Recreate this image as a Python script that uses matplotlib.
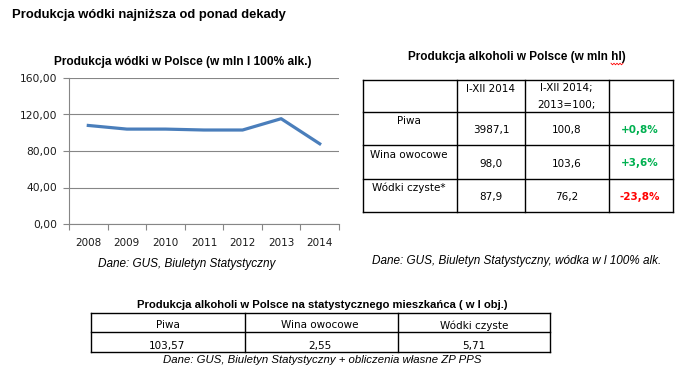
import matplotlib
matplotlib.use("Agg")
import matplotlib.pyplot as plt
import numpy as np

# ---- data ----
years = ["2008", "2009", "2010", "2011", "2012", "2013", "2014"]
vodka_prod = [108.0, 104.0, 104.0, 103.0, 103.0, 115.4, 87.9]
y_ticks = [0, 40, 80, 120, 160]

t1_headers = ["I-XII 2014", "I-XII 2014;\n2013=100;"]
t1_rows = ["Piwa", "Wina owocowe", "Wódki czyste*"]
t1_prod = ["3987,1", "98,0", "87,9"]
t1_index = ["100,8", "103,6", "76,2"]
t1_change = ["+0,8%", "+3,6%", "-23,8%"]

t2_headers = ["Piwa", "Wina owocowe", "Wódki czyste"]
t2_values = ["103,57", "2,55", "5,71"]

W, H = 680, 370
fig = plt.figure(figsize=(W / 100, H / 100), dpi=100)
fig.patch.set_facecolor("white")

BOLD = dict(family="Liberation Sans", weight="bold")
ITAL = dict(family="Liberation Sans", style="italic")
BODY = dict(family="DejaVu Sans")

# ---- line chart ----
L, R, T, B = 69, 339, 78, 224
ax = fig.add_axes([L / W, (H - B) / H, (R - L) / W, (B - T) / H])
x = np.arange(len(years))
ax.plot(x, vodka_prod, color="#4A7EBB", lw=2.3, solid_joinstyle="round")
ax.set_xlim(-0.5, len(years) - 0.5)
ax.set_ylim(0, 160)
ax.set_yticks(y_ticks)
ax.set_yticklabels([f"{v:.2f}".replace(".", ",") for v in y_ticks], fontsize=7.7, color="#1a1a1a", **BODY)
ax.set_xticks(x)
ax.set_xticklabels(years, fontsize=7.5, color="#1a1a1a", **BODY)
ax.set_xticks(np.arange(-0.5, len(years)), minor=True)
ax.tick_params(axis="x", which="major", length=0, pad=10)
ax.tick_params(axis="x", which="minor", length=4, color="#868686", width=0.8)
ax.tick_params(axis="y", length=4, color="#868686", width=0.8, pad=4.5)
ax.grid(axis="y", color="#868686", lw=0.8)
ax.set_axisbelow(True)
for s in ["top", "right"]:
    ax.spines[s].set_visible(False)
for s in ["left", "bottom"]:
    ax.spines[s].set_color("#868686")
    ax.spines[s].set_linewidth(0.8)

# ---- overlay for texts and tables ----
ov = fig.add_axes([0, 0, 1, 1], zorder=5)
ov.set_xlim(0, W)
ov.set_ylim(H, 0)
ov.axis("off")
ov.patch.set_alpha(0)

ov.text(12, 15, "Produkcja wódki najniższa od ponad dekady", fontsize=9.35, ha="left", va="center", **BOLD)
ov.text(183, 61.5, "Produkcja wódki w Polsce (w mln l 100% alk.)", fontsize=8.6, ha="center", va="center", **BOLD)
ov.text(187, 263.5, "Dane: GUS, Biuletyn Statystyczny", fontsize=8.5, ha="center", va="center", **ITAL)

# table 1
ov.text(517, 57, "Produkcja alkoholi w Polsce (w mln hl)", fontsize=8.5, ha="center", va="center", **BOLD)
zx = np.linspace(611, 623, 9)
ov.plot(zx, 64 + np.where(np.arange(9) % 2 == 0, -0.8, 0.8), color="red", lw=0.6)

c1 = [362.5, 456.5, 524.5, 608.5, 672.5]
r1 = [79.5, 111.5, 145, 178.5, 211.5]
for xc in c1:
    ov.plot([xc, xc], [r1[0], r1[-1]], color="black", lw=1.0)
for yr in r1:
    ov.plot([c1[0], c1[-1]], [yr, yr], color="black", lw=1.0)

ov.text(490, 88.5, t1_headers[0], fontsize=7.5, ha="center", va="center", **BODY)
ov.text(566, 88.5, t1_headers[1].split("\n")[0], fontsize=7.5, ha="center", va="center", **BODY)
ov.text(566, 105, t1_headers[1].split("\n")[1], fontsize=7.5, ha="center", va="center", **BODY)
lab_y = [121, 155, 188]
val_y = [130, 163.5, 197]
chg_col = ["#00B050", "#00B050", "#FF0000"]
for i in range(3):
    ov.text(409, lab_y[i], t1_rows[i], fontsize=7.5, ha="center", va="center", **BODY)
    ov.text(491, val_y[i], t1_prod[i], fontsize=7.5, ha="center", va="center", **BODY)
    ov.text(567, val_y[i], t1_index[i], fontsize=7.5, ha="center", va="center", **BODY)
    ov.text(640, val_y[i], t1_change[i], fontsize=7.5, ha="center", va="center",
            color=chg_col[i], family="DejaVu Sans", weight="bold")

ov.text(517, 261, "Dane: GUS, Biuletyn Statystyczny, wódka w l 100% alk.", fontsize=8.5,
        ha="center", va="center", **ITAL)

# table 2
ov.text(322, 304.5, "Produkcja alkoholi w Polsce na statystycznego mieszkańca ( w l obj.)", fontsize=8.1,
        ha="center", va="center", **BOLD)
c2 = [90.5, 244.5, 397.5, 550]
r2 = [312.5, 331.5, 351.5]
for yr in r2:
    ov.plot([c2[0], c2[-1]], [yr, yr], color="black", lw=1.0)
for xc in c2:
    ov.plot([xc, xc], [r2[0], r2[-1]], color="black", lw=1.0)
cx2 = [167.5, 320, 474]
for i in range(3):
    ov.text(cx2[i], 325.5, t2_headers[i], fontsize=7.5, ha="center", va="center", **BODY)
    ov.text(cx2[i], 345.5, t2_values[i], fontsize=7.5, ha="center", va="center", **BODY)
ov.text(322, 360, "Dane: GUS, Biuletyn Statystyczny + obliczenia własne ZP PPS", fontsize=8.2,
        ha="center", va="center", **ITAL)

fig.savefig("out.png", dpi=100)
